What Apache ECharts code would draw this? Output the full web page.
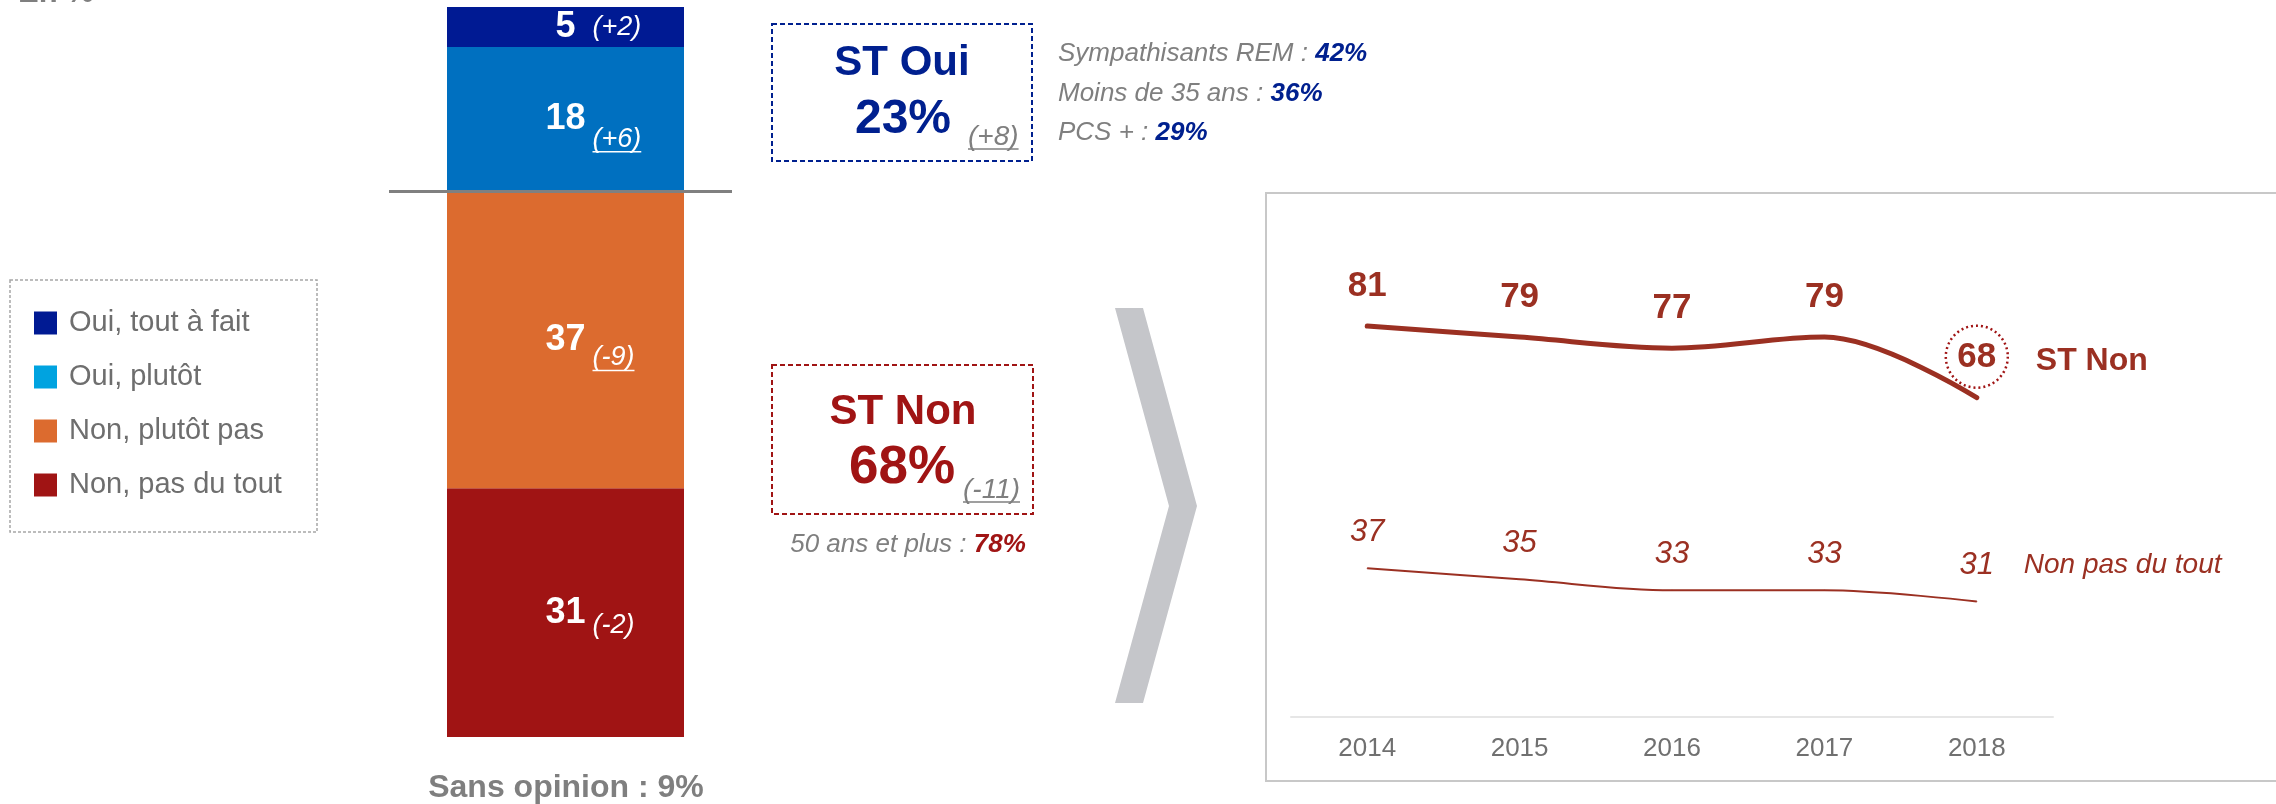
<!DOCTYPE html>
<html>
<head>
<meta charset="utf-8">
<script src="https://cdn.jsdelivr.net/npm/echarts@6/dist/echarts.min.js"></script>
<style>
  html, body { margin: 0; padding: 0; background: #ffffff; overflow: hidden; }
  #chart { width: 2276px; height: 804px; }
</style>
</head>
<body>
<div id="chart"></div>
<script>
// Answers, listed from top of the stacked bar to bottom
const answerLabels = ['Oui, tout à fait', 'Oui, plutôt', 'Non, plutôt pas', 'Non, pas du tout'];
const answerValues = [5, 18, 37, 31];
const answerChanges = ['+2', '+6', '-9', '-2'];
const sansOpinion = 9;

// Sub-totals and their change
const stOuiChange = '+8';
const stNonChange = '-11';

// Sub-population highlights
const ouiGroups = ['Sympathisants REM', 'Moins de 35 ans', 'PCS +'];
const ouiGroupValues = [42, 36, 29];
const nonGroups = ['50 ans et plus'];
const nonGroupValues = [78];

// Trend
const years = ['2014', '2015', '2016', '2017', '2018'];
const stNonTrend = [81, 79, 77, 79, 68];
const pasDuToutTrend = [37, 35, 33, 33, 31];

// ---- styling ----
const FONT = '"Liberation Sans", Arial, Helvetica, sans-serif';
const answerColors = ['#001a93', '#0070c0', '#dc6b2f', '#a01414'];
const legendColors = ['#001a93', '#00a3e0', '#dc6b2f', '#a01414'];
const changeDy = [0, 20, 18, 13];
const changeUnderline = [false, true, true, false];
const blue = '#00208f';
const red = '#a01414';
const brick = '#9b3022';
const grey = '#7f7f7f';

const stOui = answerValues[0] + answerValues[1];
const stNon = answerValues[2] + answerValues[3];
const total = answerValues.reduce((a, b) => a + b, 0);

const chart = echarts.init(document.getElementById('chart'), null, { renderer: 'canvas' });

// stacked bar series, bottom segment first
const barSeries = answerLabels.map((name, i) => ({
  name: name,
  type: 'bar',
  stack: 'answers',
  xAxisIndex: 0,
  yAxisIndex: 0,
  barCategoryGap: '0%',
  data: [answerValues[i]],
  itemStyle: { color: answerColors[i] },
  label: {
    show: true,
    position: 'inside',
    formatter: '{c}',
    color: '#ffffff',
    fontSize: 36,
    fontWeight: 'bold',
    fontFamily: FONT
  },
  silent: true
})).reverse();

const option = {
  animation: false,
  textStyle: { fontFamily: FONT },
  grid: [
    { left: 447, width: 237, top: 7, height: 730 },
    { left: 1291, width: 762, top: 221.5, height: 495.5 }
  ],
  xAxis: [
    { type: 'category', gridIndex: 0, data: [''], show: false },
    {
      type: 'category', gridIndex: 1, data: years, boundaryGap: true,
      axisLine: { show: true, lineStyle: { color: '#e6e6e6', width: 2 } },
      axisTick: { show: false },
      axisLabel: { color: '#707070', fontSize: 26, margin: 19, fontFamily: FONT },
      splitLine: { show: false }
    }
  ],
  yAxis: [
    { type: 'value', gridIndex: 0, min: 0, max: total, show: false, splitLine: { show: false } },
    { type: 'value', gridIndex: 1, min: 10, max: 100, show: false, splitLine: { show: false } }
  ],
  legend: {
    orient: 'vertical',
    left: 34,
    top: 308.5,
    padding: 0,
    itemWidth: 23,
    itemHeight: 23,
    itemGap: 25,
    icon: 'rect',
    selectedMode: false,
    textStyle: { fontSize: 29, color: '#6e6e6e', fontFamily: FONT, padding: [0, 0, 0, 7] },
    data: answerLabels.map((name, i) => ({ name: name, itemStyle: { color: legendColors[i] } }))
  },
  series: barSeries.concat([
    {
      name: 'ST Non',
      type: 'line',
      xAxisIndex: 1,
      yAxisIndex: 1,
      data: stNonTrend,
      smooth: 0.35,
      symbol: 'circle',
      symbolSize: 1,
      itemStyle: { color: brick },
      lineStyle: { color: brick, width: 5, cap: 'round' },
      label: {
        show: true, position: 'top', distance: 22,
        fontSize: 35, fontWeight: 'bold', color: brick, fontFamily: FONT
      },
      endLabel: {
        show: true,
        formatter: (p) => p.seriesName,
        distance: 59,
        offset: [0, -37],
        fontSize: 32, fontWeight: 'bold', color: brick, fontFamily: FONT
      },
      markPoint: {
        silent: true,
        symbol: 'circle',
        symbolSize: 62,
        symbolOffset: [0, -41],
        label: { show: false },
        itemStyle: { color: 'rgba(0,0,0,0)', borderColor: red, borderWidth: 2.5, borderType: [2, 3] },
        data: [{ coord: [years.length - 1, stNonTrend[stNonTrend.length - 1]] }]
      },
      silent: true
    },
    {
      name: 'Non pas du tout',
      type: 'line',
      xAxisIndex: 1,
      yAxisIndex: 1,
      data: pasDuToutTrend,
      smooth: 0.35,
      symbol: 'circle',
      symbolSize: 1,
      itemStyle: { color: brick },
      lineStyle: { color: brick, width: 2 },
      label: {
        show: true, position: 'top', distance: 20,
        fontSize: 31, fontStyle: 'italic', color: brick, fontFamily: FONT
      },
      endLabel: {
        show: true,
        formatter: (p) => p.seriesName,
        distance: 47,
        offset: [0, -36],
        fontSize: 28, fontStyle: 'italic', color: brick, fontFamily: FONT
      },
      silent: true
    }
  ])
};

chart.setOption(option);

// ---- annotations ----
const ctx = document.createElement('canvas').getContext('2d');
function textWidth(font, s) { ctx.font = font; return ctx.measureText(s).width; }

function txt(x, y, text, font, fill, align) {
  return {
    type: 'text', x: x, y: y, z: 100, silent: true,
    style: { text: text, font: font, fill: fill, textAlign: align || 'left', textVerticalAlign: 'middle' }
  };
}
function underline(x, y, w, color) {
  return { type: 'line', z: 100, silent: true, shape: { x1: x, y1: y, x2: x + w, y2: y }, style: { stroke: color, lineWidth: 1.5 } };
}
function richLine(x, y, label, value, valueColor, align) {
  return {
    type: 'text', x: x, y: y, z: 100, silent: true,
    style: {
      text: '{a|' + label + ' : }{b|' + value + '%}',
      textAlign: align || 'left',
      textVerticalAlign: 'middle',
      font: 'italic 26px ' + FONT,
      rich: {
        a: { font: 'italic 26px ' + FONT, fill: grey, color: grey },
        b: { font: 'italic bold 26px ' + FONT, fill: valueColor, color: valueColor }
      }
    }
  };
}

const graphics = [];

// heading, cut at the top edge
graphics.push(txt(18, -7, 'En %', 'bold 31px ' + FONT, grey));

// legend frame
graphics.push({
  type: 'rect', z: 100, silent: true,
  shape: { x: 10, y: 280, width: 307, height: 252 },
  style: { fill: 'none', stroke: '#a6a6a6', lineWidth: 1.5, lineDash: [3, 2] }
});

// change figures beside each segment value
const changeFont = 'italic 27px ' + FONT;
answerLabels.forEach((name, i) => {
  const below = answerValues.slice(i + 1).reduce((a, b) => a + b, 0);
  const p = chart.convertToPixel({ xAxisIndex: 0, yAxisIndex: 0 }, [0, below + answerValues[i] / 2]);
  const s = '(' + answerChanges[i] + ')';
  const x = p[0] + 27;
  const y = p[1] + changeDy[i];
  graphics.push(txt(x, y, s, changeFont, '#ffffff'));
  if (changeUnderline[i]) graphics.push(underline(x, y + 12.5, textWidth(changeFont, s), '#ffffff'));
});

// Oui / Non separator
const sepY = chart.convertToPixel({ xAxisIndex: 0, yAxisIndex: 0 }, [0, stNon])[1];
graphics.push({
  type: 'line', z: 100, silent: true,
  shape: { x1: 389, y1: sepY, x2: 732, y2: sepY },
  style: { stroke: '#808080', lineWidth: 3 }
});

graphics.push(txt(566, 788, 'Sans opinion : ' + sansOpinion + '%', 'bold 32px ' + FONT, grey, 'center'));

// ST Oui block
graphics.push({
  type: 'rect', z: 100, silent: true,
  shape: { x: 772, y: 24, width: 260, height: 137 },
  style: { fill: 'none', stroke: blue, lineWidth: 2, lineDash: [5, 3] }
});
graphics.push(txt(902, 63, 'ST Oui', 'bold 42px ' + FONT, blue, 'center'));
graphics.push(txt(903, 120, stOui + '%', 'bold 48px ' + FONT, blue, 'center'));
const ouiCh = '(' + stOuiChange + ')';
graphics.push(txt(968, 137, ouiCh, 'italic 28px ' + FONT, grey));
graphics.push(underline(968, 149, textWidth('italic 28px ' + FONT, ouiCh), grey));
ouiGroups.forEach((g, i) => {
  graphics.push(richLine(1058, 54 + i * 39.5, g, ouiGroupValues[i], blue));
});

// ST Non block
graphics.push({
  type: 'rect', z: 100, silent: true,
  shape: { x: 772, y: 365, width: 261, height: 149 },
  style: { fill: 'none', stroke: red, lineWidth: 2, lineDash: [5, 3] }
});
graphics.push(txt(903, 412, 'ST Non', 'bold 42px ' + FONT, red, 'center'));
graphics.push(txt(902, 468, stNon + '%', 'bold 53px ' + FONT, red, 'center'));
const nonCh = '(' + stNonChange + ')';
graphics.push(txt(963, 490, nonCh, 'italic 28px ' + FONT, grey));
graphics.push(underline(963, 502, textWidth('italic 28px ' + FONT, nonCh), grey));
nonGroups.forEach((g, i) => {
  graphics.push(richLine(908, 545 + i * 39.5, g, nonGroupValues[i], red, 'center'));
});

// chevron
graphics.push({
  type: 'polygon', z: 100, silent: true,
  shape: { points: [[1115, 308], [1143, 308], [1197, 506], [1143, 703], [1115, 703], [1169, 506]] },
  style: { fill: '#c5c6ca' }
});

// trend panel frame (open on the right)
graphics.push({
  type: 'rect', z: -1, silent: true,
  shape: { x: 1266, y: 193, width: 1100, height: 588 },
  style: { fill: 'none', stroke: '#c8c8c8', lineWidth: 2 }
});

chart.setOption({ graphic: { elements: graphics } });
</script>
</body>
</html>
